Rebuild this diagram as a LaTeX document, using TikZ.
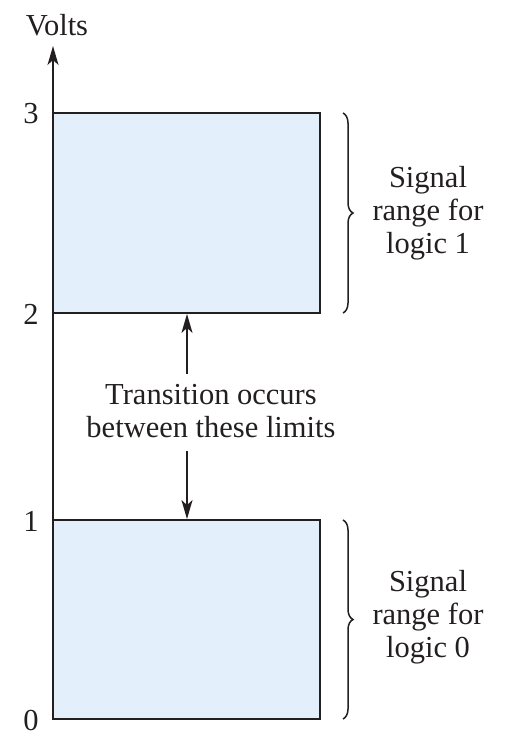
\documentclass[tikz,border=0pt]{standalone}
\usepackage{fontspec}
\setmainfont{Liberation Serif}
\usetikzlibrary{arrows.meta,decorations.pathreplacing}
\definecolor{boxfill}{HTML}{E3F0FC}
\definecolor{ink}{HTML}{231F20}
\begin{document}
\begin{tikzpicture}[x=1pt,y=-1pt,
  lbl/.style={font=\fontsize{30.5}{33}\selectfont,text=ink,inner sep=0pt,align=center},
  rangebox/.style={draw=ink,fill=boxfill,line width=1.8pt,inner sep=0pt,minimum width=267pt},
  brc/.style={draw=ink,line width=1.5pt,decorate,decoration={brace,amplitude=10pt}},
  arr/.style={draw=ink,line width=1.7pt,-{Stealth[length=19pt,width=11pt,inset=5pt]}}]
\useasboundingbox (0,0) rectangle (509,747);
\node[rangebox,minimum height=200pt] (hi) at (186.5,213) {};
\node[rangebox,minimum height=199pt] (lo) at (186.5,619.5) {};
\coordinate (l0) at (53,719);
\coordinate (axtop) at (53,46);
\draw[arr] (l0) -- (axtop);
\node[lbl] (volts) at (57,25) {Volts};
\node[lbl] (n3) at (31,114) {3};
\node[lbl] (n2) at (31,314) {2};
\node[lbl] (n1) at (31,521) {1};
\node[lbl] (n0) at (31,720) {0};
\coordinate (bh1) at (343,113);
\coordinate (bh2) at (343,313);
\coordinate (bl1) at (343,520);
\coordinate (bl2) at (343,719);
\draw[brc] (bh1) -- (bh2);
\draw[brc] (bl1) -- (bl2);
\node[lbl] (sig1) at (428,213) {Signal\\range for\\logic 1};
\node[lbl] (sig0) at (428,617) {Signal\\range for\\logic 0};
\node[lbl] (trans) at (211,411) {Transition occurs\\between these limits};
\coordinate (a1) at (187,374);
\coordinate (a2) at (187,451);
\draw[arr] (a1) -- (hi.south -| a1);
\draw[arr] (a2) -- (lo.north -| a2);
\end{tikzpicture}
\end{document}
